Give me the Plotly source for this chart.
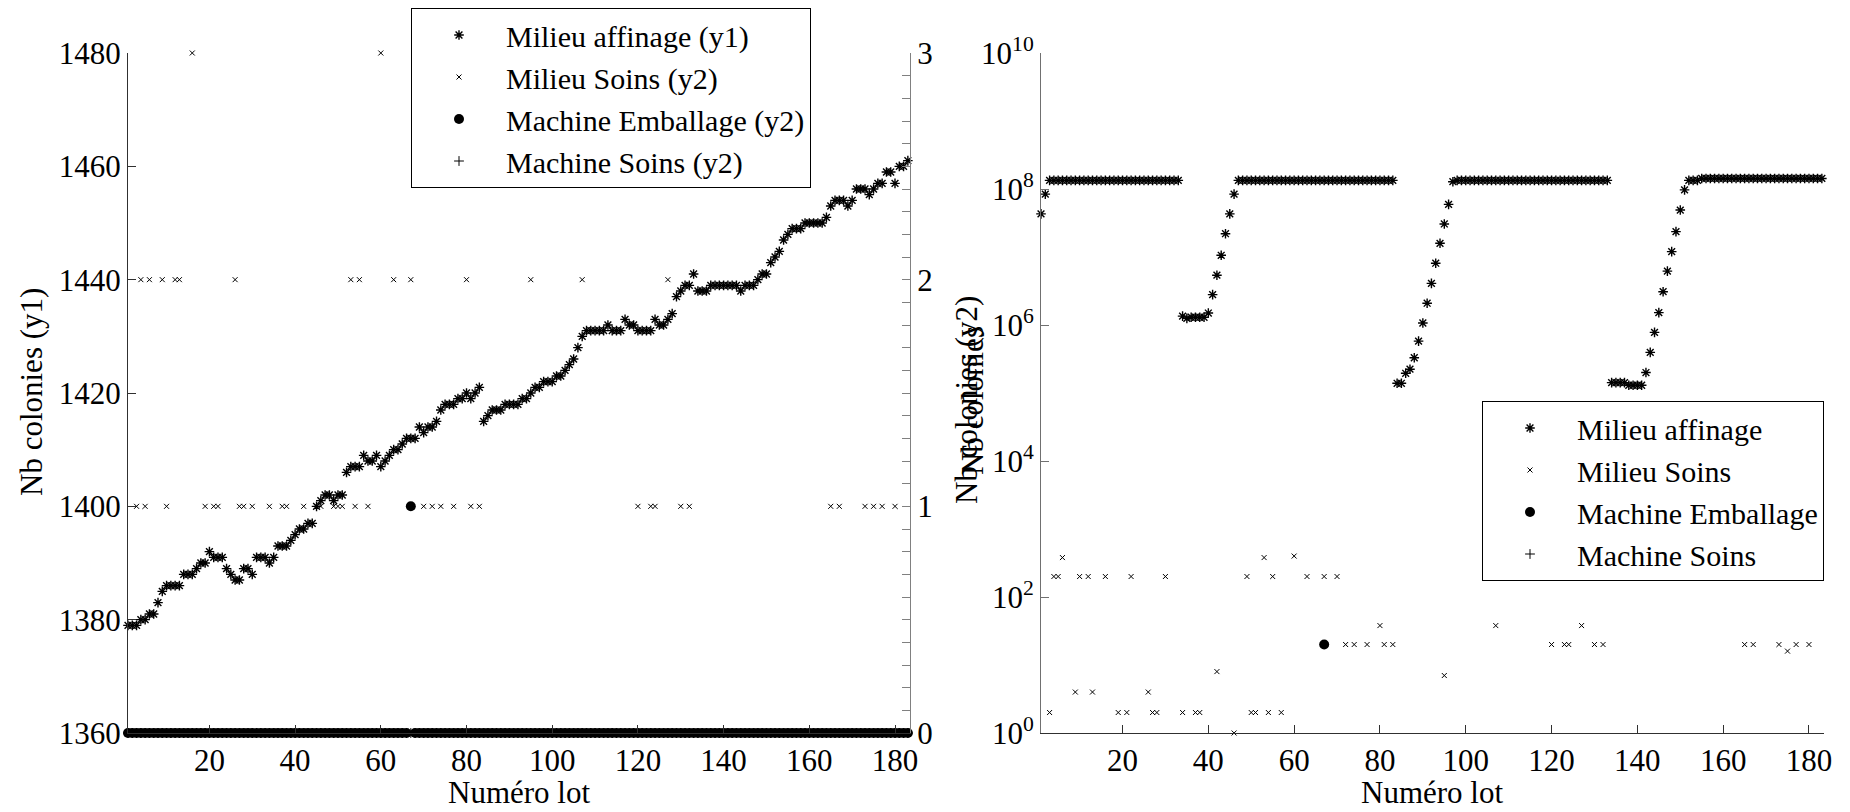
import plotly.graph_objects as go

# ---------------- data ----------------
lots = list(range(1, 184))

# left panel, y1 : Milieu affinage (colony counts)
affinage_y1 = [
    1379, 1379, 1379, 1380, 1380, 1381, 1381, 1383, 1385, 1386,
    1386, 1386, 1386, 1388, 1388, 1388, 1389, 1390, 1390, 1392,
    1391, 1391, 1391, 1389, 1388, 1387, 1387, 1389, 1389, 1388,
    1391, 1391, 1391, 1390, 1391, 1393, 1393, 1393, 1394, 1395,
    1396, 1396, 1397, 1397, 1400, 1401, 1402, 1402, 1401, 1402,
    1402, 1406, 1407, 1407, 1407, 1409, 1408, 1408, 1409, 1407,
    1408, 1409, 1410, 1410, 1411, 1412, 1412, 1412, 1414, 1413,
    1414, 1414, 1415, 1417, 1418, 1418, 1418, 1419, 1419, 1420,
    1419, 1420, 1421, 1415, 1416, 1417, 1417, 1417, 1418, 1418,
    1418, 1418, 1419, 1419, 1420, 1421, 1421, 1422, 1422, 1422,
    1423, 1423, 1424, 1425, 1426, 1428, 1430, 1431, 1431, 1431,
    1431, 1431, 1432, 1431, 1431, 1431, 1433, 1432, 1432, 1431,
    1431, 1431, 1431, 1433, 1432, 1432, 1433, 1434, 1437, 1438,
    1439, 1439, 1441, 1438, 1438, 1438, 1439, 1439, 1439, 1439,
    1439, 1439, 1439, 1438, 1439, 1439, 1439, 1440, 1441, 1441,
    1443, 1444, 1445, 1447, 1448, 1449, 1449, 1449, 1450, 1450,
    1450, 1450, 1450, 1451, 1453, 1454, 1454, 1454, 1453, 1454,
    1456, 1456, 1456, 1455, 1456, 1457, 1457, 1459, 1459, 1457,
    1460, 1460, 1461,
]

# left panel, y2 : Milieu Soins levels (non-zero lots), others are 0
soins_y2_lots = [3, 5, 10, 19, 21, 22, 27, 28, 30, 34, 37, 38, 42, 45, 46, 49, 50, 51,
                 54, 57, 70, 72, 74, 77, 81, 83, 120, 123, 124, 130, 132, 165, 167,
                 173, 175, 177, 180,
                 4, 6, 9, 12, 13, 26, 53, 55, 63, 67, 80, 95, 107, 127,
                 16, 60]
soins_y2_levels = [1] * 37 + [2] * 14 + [3] * 2
# left panel, y2 : Machine Emballage (non-zero lot), Machine Soins all 0
emb_y2_lots = [67]
emb_y2_levels = [1]

# right panel (log) : Milieu affinage
affinage_log = [
    4.3e7, 8.4e7, 1.34e8, 1.34e8, 1.34e8, 1.34e8, 1.34e8, 1.34e8, 1.34e8, 1.34e8,
    1.34e8, 1.34e8, 1.34e8, 1.34e8, 1.34e8, 1.34e8, 1.34e8, 1.34e8, 1.34e8, 1.34e8,
    1.34e8, 1.34e8, 1.34e8, 1.34e8, 1.34e8, 1.34e8, 1.34e8, 1.34e8, 1.34e8, 1.34e8,
    1.34e8, 1.34e8, 1.34e8, 1.35e6, 1.25e6, 1.3e6, 1.3e6, 1.3e6, 1.3e6, 1.5e6,
    2.8e6, 5.4e6, 1.06e7, 2.2e7, 4.3e7, 8.4e7, 1.34e8, 1.34e8, 1.34e8, 1.34e8,
    1.34e8, 1.34e8, 1.34e8, 1.34e8, 1.34e8, 1.34e8, 1.34e8, 1.34e8, 1.34e8, 1.34e8,
    1.34e8, 1.34e8, 1.34e8, 1.34e8, 1.34e8, 1.34e8, 1.34e8, 1.34e8, 1.34e8, 1.34e8,
    1.34e8, 1.34e8, 1.34e8, 1.34e8, 1.34e8, 1.34e8, 1.34e8, 1.34e8, 1.34e8, 1.34e8,
    1.34e8, 1.34e8, 1.34e8, 1.39e5, 1.39e5, 1.95e5, 2.24e5, 3.3e5, 5.8e5, 1.07e6,
    2.09e6, 4.1e6, 8.1e6, 1.59e7, 3.06e7, 5.95e7, 1.28e8, 1.34e8, 1.34e8, 1.34e8,
    1.34e8, 1.34e8, 1.34e8, 1.34e8, 1.34e8, 1.34e8, 1.34e8, 1.34e8, 1.34e8, 1.34e8,
    1.34e8, 1.34e8, 1.34e8, 1.34e8, 1.34e8, 1.34e8, 1.34e8, 1.34e8, 1.34e8, 1.34e8,
    1.34e8, 1.34e8, 1.34e8, 1.34e8, 1.34e8, 1.34e8, 1.34e8, 1.34e8, 1.34e8, 1.34e8,
    1.34e8, 1.34e8, 1.34e8, 1.42e5, 1.42e5, 1.42e5, 1.42e5, 1.3e5, 1.3e5, 1.3e5,
    1.3e5, 2.0e5, 3.96e5, 7.8e5, 1.52e6, 3.09e6, 6.2e6, 1.2e7, 2.36e7, 4.9e7,
    9.7e7, 1.34e8, 1.34e8, 1.34e8, 1.43e8, 1.43e8, 1.43e8, 1.43e8, 1.43e8, 1.43e8,
    1.43e8, 1.43e8, 1.43e8, 1.43e8, 1.43e8, 1.43e8, 1.43e8, 1.43e8, 1.43e8, 1.43e8,
    1.43e8, 1.43e8, 1.43e8, 1.43e8, 1.43e8, 1.43e8, 1.43e8, 1.43e8, 1.43e8, 1.43e8,
    1.43e8, 1.43e8, 1.43e8,
]

# right panel (log) : Milieu Soins (non-zero lots)
soins_log_lots = [3, 4, 5, 6, 9, 10, 12, 13, 16, 19, 21, 22, 26, 27, 28, 30, 34, 37, 38,
                  42, 46, 49, 50, 51, 53, 54, 55, 57, 60, 63, 67, 70, 72, 74, 77, 80, 81,
                  83, 95, 107, 120, 123, 124, 127, 130, 132, 165, 167, 173, 175, 177, 180]
soins_log_vals = [2, 200, 200, 380, 4, 200, 200, 4, 200, 2, 2, 200, 4, 2, 2, 200, 2, 2, 2,
                  8, 1, 200, 2, 2, 380, 2, 200, 2, 400, 200, 200, 200, 20, 20, 20, 38, 20,
                  20, 7, 38, 20, 20, 20, 38, 20, 20, 20, 20, 20, 16, 20, 20]
# right panel (log) : Machine Emballage (non-zero lot), Machine Soins all 0
emb_log_lots = [67]
emb_log_vals = [20]

y1_ticks = [1360, 1380, 1400, 1420, 1440, 1460, 1480]
y2_ticks = [0, 1, 2, 3]
x_ticks = [20, 40, 60, 80, 100, 120, 140, 160, 180]
log_ticks = [1e0, 1e2, 1e4, 1e6, 1e8, 1e10]
log_tick_text = ["10<sup>0</sup>", "10<sup>2</sup>", "10<sup>4</sup>",
                 "10<sup>6</sup>", "10<sup>8</sup>", "10<sup>10</sup>"]

# build full series from the sparse lists
def full_series(nz_lots, nz_vals):
    d = dict(zip(nz_lots, nz_vals))
    return [d.get(l, 0) for l in lots]

soins_y2 = full_series(soins_y2_lots, soins_y2_levels)
emb_y2 = full_series(emb_y2_lots, emb_y2_levels)
machsoins_y2 = full_series([], [])
soins_log = full_series(soins_log_lots, soins_log_vals)
emb_log = full_series(emb_log_lots, emb_log_vals)
machsoins_log = full_series([], [])

def nz(vals):
    return [v if v > 0 else None for v in vals]

# ---------------- figure ----------------
W, H = 1850, 812
FONT = "Liberation Serif, Times New Roman, Tinos, DejaVu Serif, serif"
BLACK = "#000000"

L_X0, L_X1 = 128, 910
R_X0, R_X1 = 1041, 1824
Y_TOP, Y_BOT = 53, 733
ydom = [1 - Y_BOT / H, 1 - Y_TOP / H]

fig = go.Figure()

star = dict(symbol="asterisk-open", size=8, color=BLACK, line=dict(width=1.4, color=BLACK))
xmk = dict(symbol="x-thin-open", size=5, color=BLACK, line=dict(width=1, color=BLACK))
dot = dict(symbol="circle", size=10, color=BLACK, line=dict(width=0))
plus = dict(symbol="cross-thin-open", size=7, color=BLACK, line=dict(width=1, color=BLACK))

# left panel
fig.add_trace(go.Scatter(x=lots, y=affinage_y1, mode="markers", marker=star,
                         name="Milieu affinage (y1)", xaxis="x", yaxis="y",
                         legend="legend", cliponaxis=False))
fig.add_trace(go.Scatter(x=lots, y=soins_y2, mode="markers", marker=xmk,
                         name="Milieu Soins (y2)", xaxis="x", yaxis="y2",
                         legend="legend", cliponaxis=False))
fig.add_trace(go.Scatter(x=lots, y=emb_y2, mode="markers", marker=dot,
                         name="Machine Emballage (y2)", xaxis="x", yaxis="y2",
                         legend="legend", cliponaxis=False))
fig.add_trace(go.Scatter(x=lots, y=machsoins_y2, mode="markers", marker=plus,
                         name="Machine Soins (y2)", xaxis="x", yaxis="y2",
                         legend="legend", cliponaxis=False))

# right panel
fig.add_trace(go.Scatter(x=lots, y=affinage_log, mode="markers", marker=star,
                         name="Milieu affinage", xaxis="x2", yaxis="y3",
                         legend="legend2", cliponaxis=False))
fig.add_trace(go.Scatter(x=lots, y=nz(soins_log), mode="markers", marker=xmk,
                         name="Milieu Soins", xaxis="x2", yaxis="y3",
                         legend="legend2", cliponaxis=False))
fig.add_trace(go.Scatter(x=lots, y=nz(emb_log), mode="markers", marker=dot,
                         name="Machine Emballage", xaxis="x2", yaxis="y3",
                         legend="legend2", cliponaxis=False))
fig.add_trace(go.Scatter(x=lots, y=nz(machsoins_log), mode="markers", marker=plus,
                         name="Machine Soins", xaxis="x2", yaxis="y3",
                         legend="legend2", cliponaxis=False))

tickfont = dict(family=FONT, size=31, color=BLACK)
axcommon = dict(showgrid=False, zeroline=False, showline=True, linecolor="#303030",
                linewidth=1, ticks="inside", ticklen=8, tickwidth=1, tickcolor="#303030",
                tickfont=tickfont, automargin=False)

fig.update_layout(
    width=W, height=H,
    margin=dict(l=0, r=0, t=0, b=0, pad=0, autoexpand=False),
    paper_bgcolor="white", plot_bgcolor="rgba(0,0,0,0)",
    font=dict(family=FONT, size=30, color=BLACK),
    xaxis=dict(domain=[L_X0 / W, L_X1 / W], range=[1, 183.5], anchor="y",
               tickvals=x_ticks, **axcommon),
    yaxis=dict(domain=ydom, range=[1360, 1480], anchor="x", tickvals=y1_ticks,
               **axcommon),
    yaxis2=dict(domain=ydom, range=[0, 3], anchor="x", overlaying="y", side="right",
                tickvals=y2_ticks,
                minor=dict(dtick=0.1, ticks="inside", ticklen=8, tickwidth=1,
                           tickcolor="#808080", showgrid=False),
                **{**axcommon, "linecolor": "#808080", "tickcolor": "#808080"}),
    xaxis2=dict(domain=[R_X0 / W, R_X1 / W], range=[1, 183.5], anchor="y3",
                tickvals=x_ticks, **axcommon),
    yaxis3=dict(domain=ydom, type="log", range=[0, 10], anchor="x2",
                tickvals=log_ticks, ticktext=log_tick_text,
                **{**axcommon, "linecolor": "#707070", "tickcolor": "#707070"}),
    legend=dict(x=411 / W, y=1 - 8 / H, xanchor="left", yanchor="top",
                bgcolor="white", bordercolor=BLACK, borderwidth=1,
                font=dict(family=FONT, size=30, color=BLACK), itemwidth=84),
    legend2=dict(x=1482 / W, y=1 - 401 / H, xanchor="left", yanchor="top",
                 bgcolor="white", bordercolor=BLACK, borderwidth=1,
                 font=dict(family=FONT, size=30, color=BLACK), itemwidth=84),
    showlegend=True,
)

lab = dict(family=FONT, size=31, color=BLACK)
ann = dict(xref="paper", yref="paper", showarrow=False, font=lab,
           xanchor="center", yanchor="middle")
fig.add_annotation(text="Nb colonies (y1)", x=31 / W, y=1 - 392 / H, textangle=-90, **ann)
fig.add_annotation(text="Nb colonies (y2)", x=966 / W, y=1 - 400 / H, textangle=-90, **ann)
fig.add_annotation(text="Nb colonies", x=972 / W, y=1 - 400 / H, textangle=-90, **ann)
fig.add_annotation(text="Numéro lot", x=519 / W, y=1 - 792 / H, **ann)
fig.add_annotation(text="Numéro lot", x=1432 / W, y=1 - 792 / H, **ann)

fig.write_html("out.html", config={"displayModeBar": False},
               post_script="document.body.style.margin='0px';document.body.style.padding='0px';")
